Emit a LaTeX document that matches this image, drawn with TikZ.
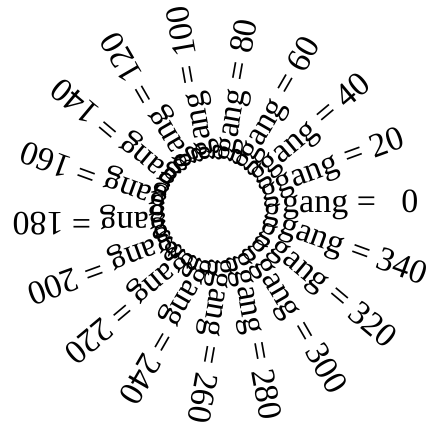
\documentclass[tikz,border=0pt]{standalone}
\usepackage{fontspec}
\setmainfont{Liberation Serif}
\begin{document}
\begin{tikzpicture}[x=1pt,y=1pt,
  lbl/.style={anchor=base west, inner sep=0pt, font=\fontsize{34}{40}\selectfont}]
\useasboundingbox (-224,-215) rectangle (209,213);
\coordinate (c) at (0,0);
\coordinate (rc) at (-9,3);
% inner ring of g's
\foreach \a in {10,30,...,350}
  \node[lbl, rotate=\a] (g\a) at ([shift={(\a:48)}]rc) {g};
% labels
\node[lbl, rotate=0] (l0) at ([shift={(0:58)}]c) {gang = \phantom{0}0};
\foreach \a in {20,40,...,340}
  \node[lbl, rotate=\a] (l\a) at ([shift={(\a:58)}]c) {gang = \a};
\end{tikzpicture}
\end{document}
